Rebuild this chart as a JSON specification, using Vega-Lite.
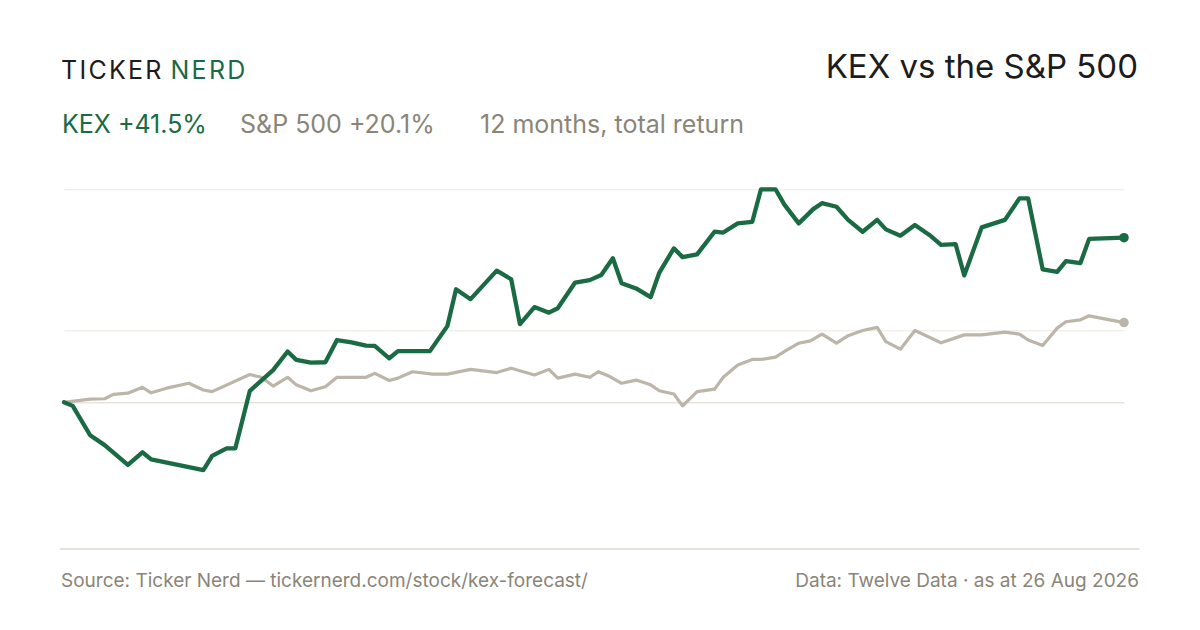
{
  "$schema": "https://vega.github.io/schema/vega-lite/v6.json",
  "width": 1060,
  "height": 357,
  "autosize": {"type": "none"},
  "padding": {"left": 64, "top": 164.3, "right": 76, "bottom": 108.7},
  "background": "#ffffff",
  "config": {"view": {"stroke": null}, "font": "Inter"},
  "datasets": {
    "returns": [
      {"date": "2025-08-26", "series": "KEX", "pct": 0},
      {"date": "2025-08-29", "series": "KEX", "pct": -0.9},
      {"date": "2025-09-04", "series": "KEX", "pct": -8.3},
      {"date": "2025-09-09", "series": "KEX", "pct": -10.8},
      {"date": "2025-09-17", "series": "KEX", "pct": -15.8},
      {"date": "2025-09-22", "series": "KEX", "pct": -12.6},
      {"date": "2025-09-25", "series": "KEX", "pct": -14.4},
      {"date": "2025-10-13", "series": "KEX", "pct": -17.1},
      {"date": "2025-10-16", "series": "KEX", "pct": -13.5},
      {"date": "2025-10-21", "series": "KEX", "pct": -11.6},
      {"date": "2025-10-24", "series": "KEX", "pct": -11.6},
      {"date": "2025-10-29", "series": "KEX", "pct": 2.9},
      {"date": "2025-11-06", "series": "KEX", "pct": 8.1},
      {"date": "2025-11-11", "series": "KEX", "pct": 12.8},
      {"date": "2025-11-14", "series": "KEX", "pct": 10.7},
      {"date": "2025-11-19", "series": "KEX", "pct": 10.0},
      {"date": "2025-11-24", "series": "KEX", "pct": 10.1},
      {"date": "2025-11-28", "series": "KEX", "pct": 15.7},
      {"date": "2025-12-03", "series": "KEX", "pct": 15.1},
      {"date": "2025-12-08", "series": "KEX", "pct": 14.3},
      {"date": "2025-12-11", "series": "KEX", "pct": 14.2},
      {"date": "2025-12-16", "series": "KEX", "pct": 11.1},
      {"date": "2025-12-19", "series": "KEX", "pct": 12.9},
      {"date": "2025-12-30", "series": "KEX", "pct": 12.9},
      {"date": "2026-01-05", "series": "KEX", "pct": 19.2},
      {"date": "2026-01-08", "series": "KEX", "pct": 28.5},
      {"date": "2026-01-13", "series": "KEX", "pct": 26.0},
      {"date": "2026-01-22", "series": "KEX", "pct": 33.2},
      {"date": "2026-01-27", "series": "KEX", "pct": 31.0},
      {"date": "2026-01-30", "series": "KEX", "pct": 19.7},
      {"date": "2026-02-04", "series": "KEX", "pct": 24.0},
      {"date": "2026-02-09", "series": "KEX", "pct": 22.6},
      {"date": "2026-02-12", "series": "KEX", "pct": 23.7},
      {"date": "2026-02-18", "series": "KEX", "pct": 30.2},
      {"date": "2026-02-23", "series": "KEX", "pct": 30.8},
      {"date": "2026-02-27", "series": "KEX", "pct": 32.1},
      {"date": "2026-03-03", "series": "KEX", "pct": 36.3},
      {"date": "2026-03-06", "series": "KEX", "pct": 30.0},
      {"date": "2026-03-11", "series": "KEX", "pct": 28.7},
      {"date": "2026-03-16", "series": "KEX", "pct": 26.5},
      {"date": "2026-03-19", "series": "KEX", "pct": 32.7},
      {"date": "2026-03-24", "series": "KEX", "pct": 38.8},
      {"date": "2026-03-27", "series": "KEX", "pct": 36.6},
      {"date": "2026-04-01", "series": "KEX", "pct": 37.3},
      {"date": "2026-04-07", "series": "KEX", "pct": 43.0},
      {"date": "2026-04-10", "series": "KEX", "pct": 42.8},
      {"date": "2026-04-15", "series": "KEX", "pct": 45.1},
      {"date": "2026-04-20", "series": "KEX", "pct": 45.5},
      {"date": "2026-04-23", "series": "KEX", "pct": 53.7},
      {"date": "2026-04-28", "series": "KEX", "pct": 53.7},
      {"date": "2026-05-01", "series": "KEX", "pct": 49.9},
      {"date": "2026-05-06", "series": "KEX", "pct": 45.1},
      {"date": "2026-05-11", "series": "KEX", "pct": 48.7},
      {"date": "2026-05-14", "series": "KEX", "pct": 50.2},
      {"date": "2026-05-19", "series": "KEX", "pct": 49.3},
      {"date": "2026-05-23", "series": "KEX", "pct": 46.0},
      {"date": "2026-05-28", "series": "KEX", "pct": 43.0},
      {"date": "2026-06-02", "series": "KEX", "pct": 46.0},
      {"date": "2026-06-05", "series": "KEX", "pct": 43.6},
      {"date": "2026-06-10", "series": "KEX", "pct": 42.0},
      {"date": "2026-06-15", "series": "KEX", "pct": 44.7},
      {"date": "2026-06-20", "series": "KEX", "pct": 42.2},
      {"date": "2026-06-24", "series": "KEX", "pct": 39.7},
      {"date": "2026-06-29", "series": "KEX", "pct": 39.9},
      {"date": "2026-07-02", "series": "KEX", "pct": 32.0},
      {"date": "2026-07-08", "series": "KEX", "pct": 44.1},
      {"date": "2026-07-16", "series": "KEX", "pct": 46.0},
      {"date": "2026-07-21", "series": "KEX", "pct": 51.4},
      {"date": "2026-07-24", "series": "KEX", "pct": 51.4},
      {"date": "2026-07-29", "series": "KEX", "pct": 33.5},
      {"date": "2026-08-03", "series": "KEX", "pct": 32.9},
      {"date": "2026-08-06", "series": "KEX", "pct": 35.6},
      {"date": "2026-08-11", "series": "KEX", "pct": 35.1},
      {"date": "2026-08-14", "series": "KEX", "pct": 41.2},
      {"date": "2026-08-26", "series": "KEX", "pct": 41.5},
      {"date": "2025-08-26", "series": "S&P 500", "pct": 0},
      {"date": "2025-09-04", "series": "S&P 500", "pct": 0.8},
      {"date": "2025-09-09", "series": "S&P 500", "pct": 0.9},
      {"date": "2025-09-12", "series": "S&P 500", "pct": 2.0},
      {"date": "2025-09-17", "series": "S&P 500", "pct": 2.3},
      {"date": "2025-09-22", "series": "S&P 500", "pct": 3.8},
      {"date": "2025-09-25", "series": "S&P 500", "pct": 2.4},
      {"date": "2025-09-30", "series": "S&P 500", "pct": 3.5},
      {"date": "2025-10-08", "series": "S&P 500", "pct": 4.8},
      {"date": "2025-10-13", "series": "S&P 500", "pct": 3.1},
      {"date": "2025-10-16", "series": "S&P 500", "pct": 2.7},
      {"date": "2025-10-29", "series": "S&P 500", "pct": 7.0},
      {"date": "2025-11-02", "series": "S&P 500", "pct": 6.3},
      {"date": "2025-11-06", "series": "S&P 500", "pct": 4.1},
      {"date": "2025-11-11", "series": "S&P 500", "pct": 6.3},
      {"date": "2025-11-14", "series": "S&P 500", "pct": 4.4},
      {"date": "2025-11-19", "series": "S&P 500", "pct": 2.9},
      {"date": "2025-11-24", "series": "S&P 500", "pct": 3.9},
      {"date": "2025-11-28", "series": "S&P 500", "pct": 6.3},
      {"date": "2025-12-08", "series": "S&P 500", "pct": 6.3},
      {"date": "2025-12-11", "series": "S&P 500", "pct": 7.3},
      {"date": "2025-12-16", "series": "S&P 500", "pct": 5.5},
      {"date": "2025-12-19", "series": "S&P 500", "pct": 6.1},
      {"date": "2025-12-24", "series": "S&P 500", "pct": 7.7},
      {"date": "2025-12-31", "series": "S&P 500", "pct": 7.1},
      {"date": "2026-01-05", "series": "S&P 500", "pct": 7.1},
      {"date": "2026-01-13", "series": "S&P 500", "pct": 8.3},
      {"date": "2026-01-22", "series": "S&P 500", "pct": 7.5},
      {"date": "2026-01-27", "series": "S&P 500", "pct": 8.6},
      {"date": "2026-02-04", "series": "S&P 500", "pct": 6.9},
      {"date": "2026-02-09", "series": "S&P 500", "pct": 8.3},
      {"date": "2026-02-12", "series": "S&P 500", "pct": 6.1},
      {"date": "2026-02-18", "series": "S&P 500", "pct": 7.1},
      {"date": "2026-02-23", "series": "S&P 500", "pct": 6.3},
      {"date": "2026-02-26", "series": "S&P 500", "pct": 7.7},
      {"date": "2026-03-02", "series": "S&P 500", "pct": 6.5},
      {"date": "2026-03-06", "series": "S&P 500", "pct": 4.8},
      {"date": "2026-03-11", "series": "S&P 500", "pct": 5.6},
      {"date": "2026-03-16", "series": "S&P 500", "pct": 4.4},
      {"date": "2026-03-19", "series": "S&P 500", "pct": 2.9},
      {"date": "2026-03-24", "series": "S&P 500", "pct": 2.1},
      {"date": "2026-03-27", "series": "S&P 500", "pct": -0.9},
      {"date": "2026-04-01", "series": "S&P 500", "pct": 2.7},
      {"date": "2026-04-07", "series": "S&P 500", "pct": 3.3},
      {"date": "2026-04-10", "series": "S&P 500", "pct": 6.3},
      {"date": "2026-04-15", "series": "S&P 500", "pct": 9.4},
      {"date": "2026-04-20", "series": "S&P 500", "pct": 10.8},
      {"date": "2026-04-23", "series": "S&P 500", "pct": 10.8},
      {"date": "2026-04-28", "series": "S&P 500", "pct": 11.4},
      {"date": "2026-05-01", "series": "S&P 500", "pct": 12.8},
      {"date": "2026-05-06", "series": "S&P 500", "pct": 14.9},
      {"date": "2026-05-10", "series": "S&P 500", "pct": 15.5},
      {"date": "2026-05-14", "series": "S&P 500", "pct": 17.2},
      {"date": "2026-05-19", "series": "S&P 500", "pct": 14.9},
      {"date": "2026-05-23", "series": "S&P 500", "pct": 16.8},
      {"date": "2026-05-28", "series": "S&P 500", "pct": 18.1},
      {"date": "2026-06-02", "series": "S&P 500", "pct": 18.9},
      {"date": "2026-06-05", "series": "S&P 500", "pct": 15.3},
      {"date": "2026-06-10", "series": "S&P 500", "pct": 13.4},
      {"date": "2026-06-15", "series": "S&P 500", "pct": 18.1},
      {"date": "2026-06-24", "series": "S&P 500", "pct": 15.0},
      {"date": "2026-07-02", "series": "S&P 500", "pct": 17.0},
      {"date": "2026-07-08", "series": "S&P 500", "pct": 17.0},
      {"date": "2026-07-16", "series": "S&P 500", "pct": 17.7},
      {"date": "2026-07-21", "series": "S&P 500", "pct": 17.2},
      {"date": "2026-07-24", "series": "S&P 500", "pct": 15.7},
      {"date": "2026-07-29", "series": "S&P 500", "pct": 14.3},
      {"date": "2026-08-03", "series": "S&P 500", "pct": 18.7},
      {"date": "2026-08-06", "series": "S&P 500", "pct": 20.3},
      {"date": "2026-08-11", "series": "S&P 500", "pct": 20.8},
      {"date": "2026-08-14", "series": "S&P 500", "pct": 21.8},
      {"date": "2026-08-26", "series": "S&P 500", "pct": 20.1}
    ]
  },
  "layer": [
    {
      "data": {"name": "returns"},
      "transform": [{"filter": "datum.series === 'S&P 500'"}],
      "mark": {"type": "line", "color": "#bcb5a9", "strokeWidth": 3.2, "strokeJoin": "round", "strokeCap": "round"},
      "encoding": {
        "x": {"field": "date", "type": "temporal", "scale": {"nice": false}, "axis": null},
        "y": {
          "field": "pct",
          "type": "quantitative",
          "scale": {"domain": [-30, 60], "nice": false, "zero": false},
          "axis": {
            "values": [0, 18.2, 53.6],
            "labels": false,
            "ticks": false,
            "domain": false,
            "title": null,
            "grid": true,
            "gridWidth": 1,
            "gridColor": {"condition": {"test": "datum.value === 0", "value": "#dbd7cb"}, "value": "#ebe8e1"}
          }
        }
      }
    },
    {
      "data": {"name": "returns"},
      "transform": [{"filter": "datum.series === 'KEX'"}],
      "mark": {"type": "line", "color": "#1a6b44", "strokeWidth": 4.3, "strokeJoin": "round", "strokeCap": "round"},
      "encoding": {
        "x": {"field": "date", "type": "temporal"},
        "y": {"field": "pct", "type": "quantitative"}
      }
    },
    {
      "data": {"name": "returns"},
      "transform": [
        {"joinaggregate": [{"op": "max", "field": "date", "as": "lastDate"}], "groupby": ["series"]},
        {"filter": "datum.date === datum.lastDate"}
      ],
      "mark": {"type": "point", "filled": true, "opacity": 1, "size": 90},
      "encoding": {
        "x": {"field": "date", "type": "temporal"},
        "y": {"field": "pct", "type": "quantitative"},
        "color": {"field": "series", "type": "nominal", "scale": {"domain": ["KEX", "S&P 500"], "range": ["#1a6b44", "#bcb5a9"]}, "legend": null}
      }
    },
    {
      "data": {"values": [{}]},
      "mark": {"type": "text", "text": "T\u200aI\u200aC\u200aK\u200aE\u200aR", "x": -3, "y": -85, "align": "left", "baseline": "alphabetic", "fontSize": 25, "color": "#1c1c1c"},
      "encoding": {}
    },
    {
      "data": {"values": [{}]},
      "mark": {"type": "text", "text": "N\u200aE\u200aR\u200aD", "x": 106.5, "y": -85, "align": "left", "baseline": "alphabetic", "fontSize": 25, "color": "#1a6b44"},
      "encoding": {}
    },
    {
      "data": {"values": [{}]},
      "mark": {"type": "text", "text": "KEX vs the S&P 500", "x": 1074, "y": -86.6, "align": "right", "baseline": "alphabetic", "fontSize": 33, "color": "#1c1c1c"},
      "encoding": {}
    },
    {
      "data": {"values": [{}]},
      "mark": {"type": "text", "text": "KEX +41.5%", "x": -2, "y": -31.6, "align": "left", "baseline": "alphabetic", "fontSize": 25, "color": "#1a6b44"},
      "encoding": {}
    },
    {
      "data": {"values": [{}]},
      "mark": {"type": "text", "text": "S&P 500 +20.1%", "x": 176, "y": -31.6, "align": "left", "baseline": "alphabetic", "fontSize": 25, "color": "#8a8579"},
      "encoding": {}
    },
    {
      "data": {"values": [{}]},
      "mark": {"type": "text", "text": "12 months, total return", "x": 416, "y": -31.6, "align": "left", "baseline": "alphabetic", "fontSize": 25, "color": "#8a8579"},
      "encoding": {}
    },
    {
      "data": {"values": [{}]},
      "mark": {"type": "rule", "color": "#ddd9ce", "strokeWidth": 1.5},
      "encoding": {
        "x": {"value": -4},
        "x2": {"value": 1075.5},
        "y": {"value": 384.7},
        "y2": {"value": 384.7}
      }
    },
    {
      "data": {"values": [{}]},
      "mark": {"type": "text", "text": "Source: Ticker Nerd — tickernerd.com/stock/kex-forecast/", "x": -3, "y": 422.7, "align": "left", "baseline": "alphabetic", "fontSize": 19, "color": "#8a8579"},
      "encoding": {}
    },
    {
      "data": {"values": [{}]},
      "mark": {"type": "text", "text": "Data: Twelve Data · as at 26 Aug 2026", "x": 1075, "y": 422.7, "align": "right", "baseline": "alphabetic", "fontSize": 19, "color": "#8a8579"},
      "encoding": {}
    }
  ]
}
